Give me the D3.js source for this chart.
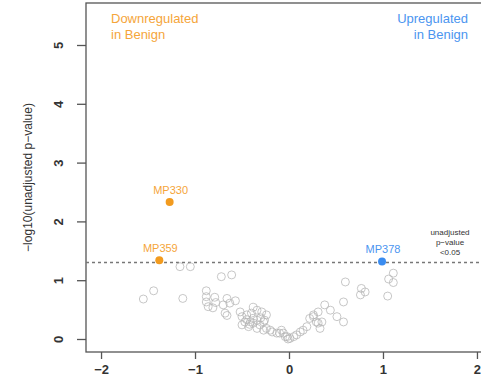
<!DOCTYPE html>
<html>
<head>
<meta charset="utf-8">
<script src="https://cdn.jsdelivr.net/npm/d3@7"></script>
<style>
body { margin: 0; background: #fff; }
svg { display: block; font-family: "Liberation Sans", Arial, sans-serif; }
</style>
</head>
<body>
<svg id="chart" width="481" height="388"></svg>
<script>
// log2 fold change (x) and -log10 p (y) for non significant peaks
var grayX = [-1.16,-1.05,-1.44,-1.55,-1.13,-0.72,-0.61,-0.88,-0.88,-0.88,-0.79,-0.78,-0.66,-0.63,-0.86,-0.81,-0.70,-0.68,-0.66,-0.52,
  -0.50,-0.45,-0.38,-0.40,-0.47,-0.41,-0.34,-0.31,-0.27,-0.24,-0.18,-0.13,-0.34,-0.29,-0.50,-0.43,-0.38,-0.34,-0.26,-0.27,
  -0.20,-0.10,-0.04,-0.24,0.01,-0.02,-0.06,-0.08,-0.01,0.05,0.08,0.12,0.15,0.19,0.22,0.26,0.31,0.35,0.31,0.33,
  0.38,0.44,0.51,0.58,0.58,0.60,0.77,0.81,0.76,1.11,1.06,1.11,1.05,0.26,0.29,-0.57,-0.45,-0.38,-0.42,-0.30];
var grayY = [1.23,1.23,0.82,0.68,0.69,1.06,1.09,0.82,0.72,0.63,0.71,0.62,0.69,0.61,0.55,0.53,0.58,0.44,0.40,0.46,
  0.38,0.41,0.54,0.44,0.29,0.29,0.32,0.24,0.29,0.18,0.12,0.10,0.49,0.46,0.24,0.21,0.27,0.18,0.32,0.15,
  0.15,0.10,0.04,0.41,0.01,0.04,0.10,0.15,0.00,0.04,0.07,0.12,0.15,0.21,0.35,0.41,0.46,0.29,0.27,0.18,
  0.58,0.49,0.38,0.29,0.63,0.97,0.86,0.80,0.75,1.12,1.02,0.96,0.73,0.38,0.29,0.65,0.33,0.35,0.25,0.36];

var hitNames = ["MP330", "MP359", "MP378"];
var hitX = [-1.27, -1.38, 0.99];
var hitY = [2.33, 1.34, 1.32];
var hitDir = ["down", "down", "up"];

var xTicks = [-2, -1, 0, 1, 2];
var yTicks = [0, 1, 2, 3, 4, 5];
var cutoff = -Math.log10(0.05);

var orange = "#f29b1f", blue = "#3a8cf0", textOrange = "#f5a53a", textBlue = "#4b95f0";

var svg = d3.select("#chart");
var boxL = 86, boxR = 492, boxT = 3, boxB = 352;

var x = d3.scaleLinear().domain([-2.16, 2.16]).range([boxL, boxR]);
var y = d3.scaleLinear().domain([0, 5]).range([339, 45]);

// box
svg.append("rect")
  .attr("x", boxL).attr("y", boxT)
  .attr("width", boxR - boxL).attr("height", boxB - boxT)
  .attr("fill", "none").attr("stroke", "#555").attr("stroke-width", 1.3);

var xAxis = svg.append("g")
  .attr("transform", "translate(0," + boxB + ")")
  .call(d3.axisBottom(x).tickValues(xTicks).tickSize(7).tickPadding(6).tickFormat(function (d) { return d < 0 ? "\u2212" + Math.abs(d) : d; }));
xAxis.select(".domain").remove();
xAxis.selectAll("line").attr("stroke", "#555").attr("stroke-width", 1.3);
xAxis.selectAll("text").attr("font-size", 13).attr("font-weight", "bold").attr("fill", "#333")
  .attr("font-family", "Liberation Sans, Arial, sans-serif");

var yAxis = svg.append("g")
  .attr("transform", "translate(" + boxL + ",0)")
  .call(d3.axisLeft(y).tickValues(yTicks).tickSize(9).tickFormat(d3.format("d")));
yAxis.select(".domain").remove();
yAxis.selectAll("line").attr("stroke", "#555").attr("stroke-width", 1.3);
yAxis.selectAll("text")
  .attr("x", 0).attr("y", -23).attr("dy", 0)
  .attr("transform", "rotate(-90)")
  .attr("text-anchor", "middle")
  .attr("font-size", 13).attr("font-weight", "bold").attr("fill", "#333")
  .attr("font-family", "Liberation Sans, Arial, sans-serif");

svg.append("text")
  .attr("transform", "translate(32," + (boxT + boxB) / 2 + ") rotate(-90)")
  .attr("text-anchor", "middle")
  .attr("font-size", 12).attr("fill", "#333")
  .text("\u2212log10(unadjusted p\u2212value)");

// threshold line
svg.append("line")
  .attr("x1", boxL).attr("x2", 481)
  .attr("y1", y(cutoff)).attr("y2", y(cutoff))
  .attr("stroke", "#777").attr("stroke-width", 1.6).attr("stroke-dasharray", "3,3");

svg.append("text")
  .attr("x", 450).attr("y", 235)
  .attr("text-anchor", "middle").attr("font-size", 8).attr("fill", "#333")
  .selectAll("tspan").data(["unadjusted", "p\u2212value", "<0.05"]).enter()
  .append("tspan").attr("x", 450).attr("dy", function (d, i) { return i ? 10 : 0; })
  .text(function (d) { return d; });

// grey points
svg.append("g").selectAll("circle")
  .data(grayX).enter().append("circle")
  .attr("cx", function (d) { return x(d); })
  .attr("cy", function (d, i) { return y(grayY[i]); })
  .attr("r", 4)
  .attr("fill", "none")
  .attr("stroke", "#b4b4b4")
  .attr("stroke-opacity", 0.75)
  .attr("stroke-width", 1);

// highlighted points
var hits = svg.append("g").selectAll("g")
  .data(hitNames).enter().append("g");
hits.append("circle")
  .attr("cx", function (d, i) { return x(hitX[i]); })
  .attr("cy", function (d, i) { return y(hitY[i]); })
  .attr("r", 4)
  .attr("fill", function (d, i) { return hitDir[i] == "down" ? orange : blue; });
hits.append("text")
  .attr("x", function (d, i) { return x(hitX[i]) + 1; })
  .attr("y", function (d, i) { return y(hitY[i]) - 8; })
  .attr("text-anchor", "middle")
  .attr("font-size", 11)
  .attr("fill", function (d, i) { return hitDir[i] == "down" ? textOrange : textBlue; })
  .text(function (d) { return d; });

// region labels
svg.append("text")
  .attr("x", 111).attr("y", 23).attr("font-size", 13).attr("fill", textOrange)
  .selectAll("tspan").data(["Downregulated", "in Benign"]).enter()
  .append("tspan").attr("x", 111).attr("dy", function (d, i) { return i ? 16 : 0; })
  .text(function (d) { return d; });

svg.append("text")
  .attr("x", 468).attr("y", 23).attr("font-size", 13).attr("fill", textBlue).attr("text-anchor", "end")
  .selectAll("tspan").data(["Upregulated", "in Benign"]).enter()
  .append("tspan").attr("x", 468).attr("dy", function (d, i) { return i ? 16 : 0; })
  .text(function (d) { return d; });
</script>
</body>
</html>
